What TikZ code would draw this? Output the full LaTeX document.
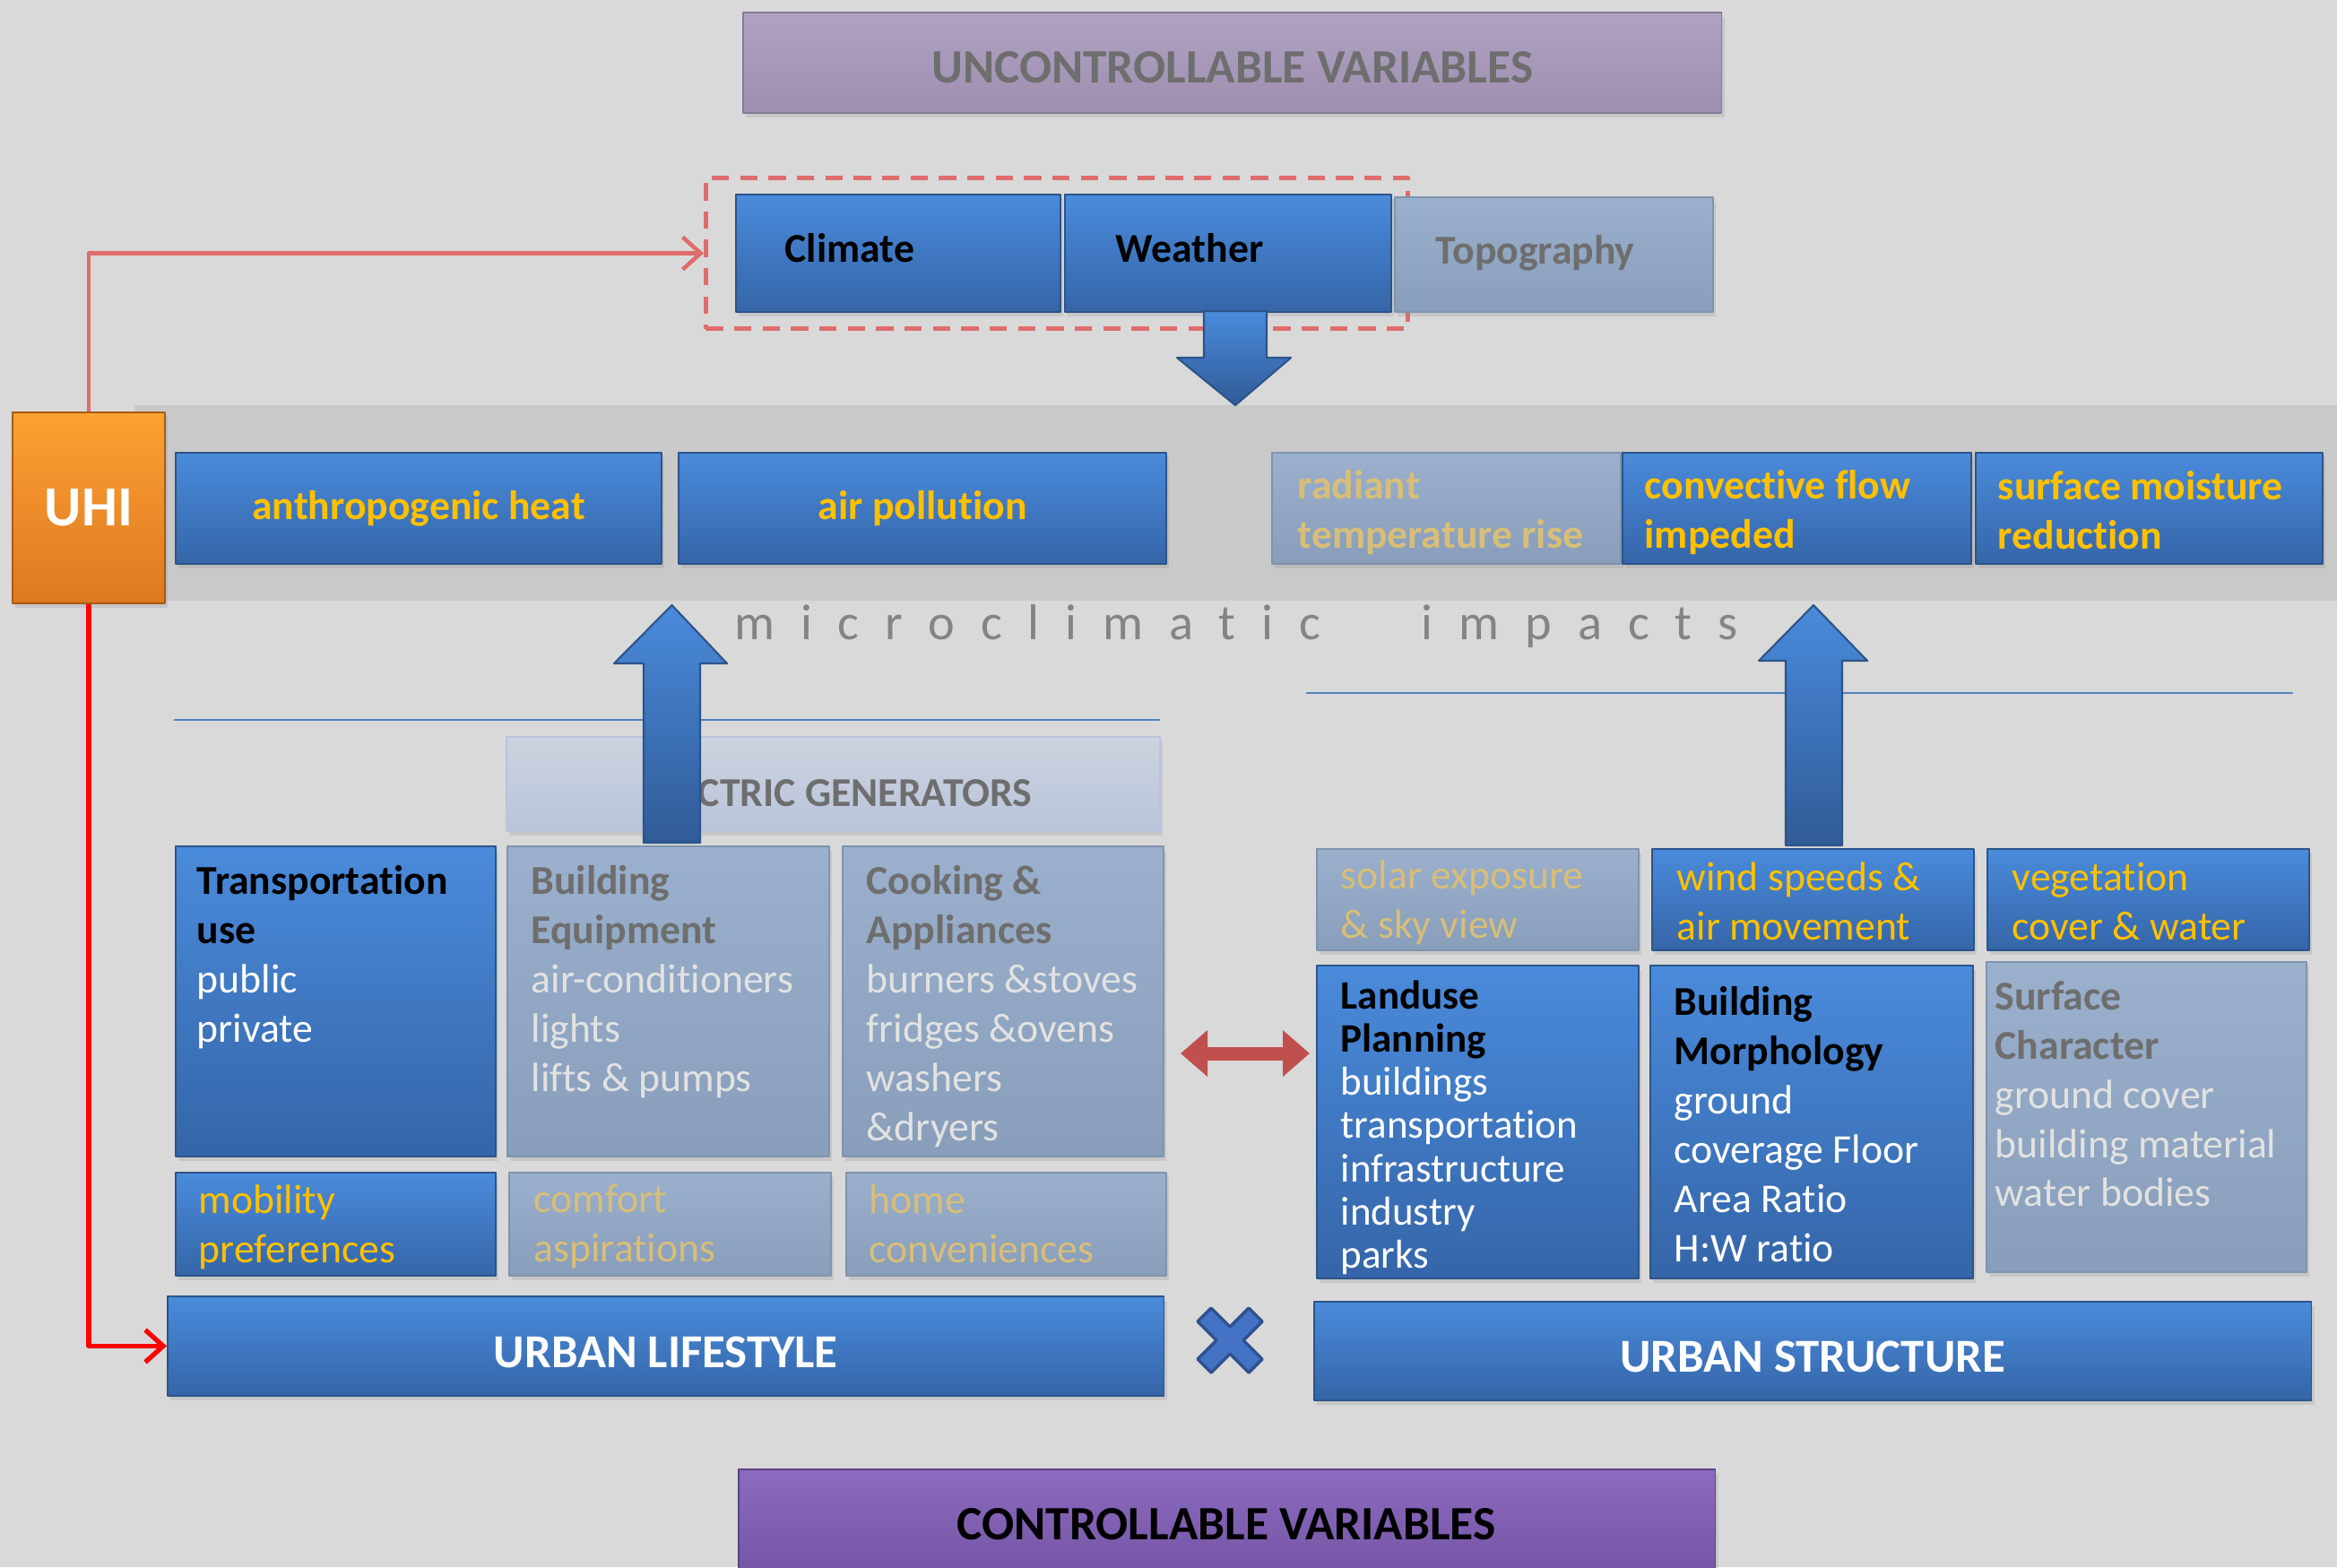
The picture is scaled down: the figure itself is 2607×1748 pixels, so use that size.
\documentclass[tikz,border=0pt]{standalone}
\usepackage{fontspec}
\setmainfont[Ligatures=NoCommon]{Carlito}
\newfontfamily\spacedfont[LetterSpace=51.5,Ligatures=NoCommon]{Carlito}
\usetikzlibrary{arrows.meta}
\usetikzlibrary{shadows}
\definecolor{bggray}{HTML}{D9D9D9}
\definecolor{bandgray}{HTML}{C9C9C9}
\definecolor{bluetop}{HTML}{4A8BDB}
\definecolor{bluebot}{HTML}{3565A8}
\definecolor{blueedge}{HTML}{2C5488}
\definecolor{dulltop}{HTML}{9AB0CC}
\definecolor{dullbot}{HTML}{889EBA}
\definecolor{dulledge}{HTML}{7F94AE}
\definecolor{gentop}{HTML}{CDD3DF}
\definecolor{genbot}{HTML}{B9C4DB}
\definecolor{orgtop}{HTML}{FBA232}
\definecolor{orgbot}{HTML}{DE7822}
\definecolor{orgedge}{HTML}{A85A14}
\definecolor{lilactop}{HTML}{B0A2C2}
\definecolor{lilacbot}{HTML}{9E8FB0}
\definecolor{violettop}{HTML}{8C6BC0}
\definecolor{violetbot}{HTML}{7353A2}
\definecolor{goldtxt}{HTML}{FFC000}
\definecolor{dimgold}{HTML}{D8BE78}
\definecolor{greytxt}{HTML}{6E6E6E}
\definecolor{palegrey}{HTML}{E2E2E2}
\definecolor{uhired}{HTML}{E06C6C}
\definecolor{linkred}{HTML}{FF0000}
\definecolor{swapred}{HTML}{C0504D}
\definecolor{rulerblue}{HTML}{4F81BD}
\definecolor{crossblue}{HTML}{4472C4}
\definecolor{crossedge}{HTML}{2F528F}
\newcommand{\darkhead}[1]{{\color{black}\bfseries #1}}
\newcommand{\dullhead}[1]{{\color{greytxt}\bfseries #1}}

\begin{document}
\begin{tikzpicture}[line cap=round,line join=round,x=0.01cm,y=-0.01cm,
  font=\fontsize{13}{15.6}\selectfont,
  box/.style={anchor=north west,inner sep=0pt,line width=0.5pt,
    drop shadow={opacity=0.2,shadow xshift=0.03cm,shadow yshift=-0.05cm}},
  bluebox/.style={box,top color=bluetop,bottom color=bluebot,draw=blueedge},
  dullbox/.style={box,top color=dulltop,bottom color=dullbot,draw=dulledge},
  txt/.style={anchor=north west,align=left,inner sep=0pt},
  midtxt/.style={anchor=west,align=left,inner sep=0pt},
  blockarrow/.style={top color=bluetop,bottom color=bluebot!90!black,draw=blueedge,line width=0.6pt},
  linkarrow/.style={line width=1.5pt,line cap=butt,-{Straight Barb[length=0.2cm,width=0.36cm]}}]
\clip (0,0) rectangle (2607,1748);
\fill[bggray] (0,0) rectangle (2607,1748);
\fill[bandgray] (150,452) rectangle (2607,670);

% uncontrollable
\node[box,top color=lilactop,bottom color=lilacbot,draw=lilacbot!85!black,minimum width=10.91cm,minimum height=1.12cm] (uncontrol) at (828,13) {};
\node[font=\fontsize{15.2}{18}\selectfont\bfseries,text=greytxt] (uncontroltxt) at ([yshift=-0.05cm]uncontrol.center) {UNCONTROLLABLE VARIABLES};
\node[anchor=north west,inner sep=0pt,draw=uhired,line width=1.4pt,line cap=butt,dash pattern=on 5.5pt off 3.5pt,
  minimum width=7.83cm,minimum height=1.68cm] (dashbox) at (785,196) {};
\node[bluebox,minimum width=3.62cm,minimum height=1.31cm] (climate) at (820,216) {};
\node[bluebox,minimum width=3.64cm,minimum height=1.31cm] (weather) at (1187,216) {};
\node[dullbox,minimum width=3.55cm,minimum height=1.28cm] (topo) at (1555,219) {};
\node[midtxt,font=\fontsize{13}{15.6}\selectfont\bfseries] (climatetxt) at ([xshift=0.55cm,yshift=0.06cm]climate.west) {Climate};
\node[midtxt,font=\fontsize{13}{15.6}\selectfont\bfseries] (weathertxt) at ([xshift=0.57cm,yshift=0.06cm]weather.west) {Weather};
\node[midtxt,font=\fontsize{13}{15.6}\selectfont\bfseries,text=greytxt] (topotxt) at ([xshift=0.46cm,yshift=0.02cm]topo.west) {Topography};
\draw[blockarrow] (1343,347) -- (1413,347) -- (1413,399) -- (1440,399) -- (1378,452) -- (1313,399) -- (1343,399) -- cycle;

% microclimatic impacts
\node[box,top color=orgtop,bottom color=orgbot,draw=orgedge,minimum width=1.70cm,minimum height=2.13cm,
  font=\fontsize{18}{20}\selectfont\bfseries,text=white] (uhi) at (13,459) {UHI};
\draw[linkarrow,uhired,line width=1.3pt] (uhi.north) |- (dashbox.west);
\node[bluebox,minimum width=5.42cm,minimum height=1.24cm,font=\fontsize{13}{15.6}\selectfont\bfseries,text=goldtxt] (anthro) at (195,504) {anthropogenic heat};
\node[bluebox,minimum width=5.44cm,minimum height=1.24cm,font=\fontsize{13}{15.6}\selectfont\bfseries,text=goldtxt] (airpol) at (756,504) {air pollution};
\node[dullbox,minimum width=3.89cm,minimum height=1.24cm] (radiant) at (1418,504) {};
\node[bluebox,minimum width=3.89cm,minimum height=1.24cm] (convect) at (1809,504) {};
\node[bluebox,minimum width=3.87cm,minimum height=1.24cm] (moist) at (2203,504) {};
\node[midtxt,font=\fontsize{13}{15.6}\selectfont\bfseries,text=dimgold] (radianttxt) at ([xshift=0.29cm,yshift=-0.05cm]radiant.west) {radiant\\temperature rise};
\node[midtxt,font=\fontsize{13}{15.6}\selectfont\bfseries,text=goldtxt] (convecttxt) at ([xshift=0.25cm,yshift=-0.05cm]convect.west) {convective flow\\impeded};
\node[midtxt,font=\fontsize{13}{15.6}\selectfont\bfseries,text=goldtxt] (moisttxt) at ([xshift=0.25cm,yshift=-0.02cm]moist.west) {surface moisture\\reduction};
\node[text=greytxt!85!white,font=\spacedfont\fontsize{16}{19}\selectfont] (microtxt) at (1379,698) {microclimatic\hspace{2.0em}impacts};

% urban lifestyle
\draw[rulerblue,line width=0.8pt] (195,803) -- (1293,803);
\node[box,top color=gentop,bottom color=genbot,draw=genbot,minimum width=7.29cm,minimum height=1.05cm] (elecgen) at (564,821) {};
\node[midtxt,font=\fontsize{13}{15.6}\selectfont\bfseries,text=greytxt] (elecgentxt) at ([xshift=2.14cm,yshift=-0.1cm]elecgen.west) {CTRIC GENERATORS};
\node[bluebox,minimum width=3.57cm,minimum height=3.46cm] (transp) at (195,943) {};
\node[dullbox,minimum width=3.59cm,minimum height=3.46cm] (equip) at (565,943) {};
\node[dullbox,minimum width=3.58cm,minimum height=3.46cm] (cook) at (939,943) {};
\node[txt,text=white] (transptxt) at ([shift={(24,22)}]transp.north west) {\darkhead{Transportation}\\\darkhead{use}\\public\\private};
\node[txt,text=palegrey] (equiptxt) at ([shift={(27,22)}]equip.north west) {\dullhead{Building}\\\dullhead{Equipment}\\air-conditioners\\lights\\lifts \& pumps};
\node[txt,text=palegrey] (cooktxt) at ([shift={(27,22)}]cook.north west) {\dullhead{Cooking \&}\\\dullhead{Appliances}\\burners \&stoves\\fridges \&ovens\\washers\\\&dryers};
\node[bluebox,minimum width=3.57cm,minimum height=1.15cm] (mobil) at (195,1307) {};
\node[dullbox,minimum width=3.59cm,minimum height=1.15cm] (comfort) at (567,1307) {};
\node[dullbox,minimum width=3.57cm,minimum height=1.15cm] (homeconv) at (943,1307) {};
\node[midtxt,text=goldtxt] (mobiltxt) at ([xshift=0.26cm,yshift=-0.03cm]mobil.west) {mobility\\preferences};
\node[midtxt,text=dimgold] (comforttxt) at ([xshift=0.28cm,yshift=-0.03cm]comfort.west) {comfort\\aspirations};
\node[midtxt,text=dimgold] (homeconvtxt) at ([xshift=0.26cm]homeconv.west) {home\\conveniences};
\node[bluebox,minimum width=11.11cm,minimum height=1.11cm] (lifestyle) at (186,1445) {};
\node[font=\fontsize{15}{18}\selectfont\bfseries,text=white] (lifestyletxt) at ([yshift=-0.07cm]lifestyle.center) {URBAN LIFESTYLE};
\draw[linkarrow,linkred] (uhi.south) |- (lifestyle.west);
\draw[blockarrow] (718,940) -- (718,740) -- (685,740) -- (749.5,675) -- (811,740) -- (781,740) -- (781,940) -- cycle;

% urban structure
\draw[rulerblue,line width=0.8pt] (1458,773) -- (2557,773);
\node[dullbox,minimum width=3.59cm,minimum height=1.13cm] (solar) at (1468,946) {};
\node[bluebox,minimum width=3.59cm,minimum height=1.13cm] (wind) at (1842,946) {};
\node[bluebox,minimum width=3.59cm,minimum height=1.13cm] (veget) at (2216,946) {};
\node[midtxt,text=dimgold] (solartxt) at ([xshift=0.27cm,yshift=-0.03cm]solar.west) {solar exposure\\\& sky view};
\node[midtxt,text=goldtxt] (windtxt) at ([xshift=0.28cm,yshift=-0.02cm]wind.west) {wind speeds \&\\air movement};
\node[midtxt,text=goldtxt] (vegettxt) at ([xshift=0.28cm,yshift=-0.02cm]veget.west) {vegetation\\cover \& water};
\node[bluebox,minimum width=3.59cm,minimum height=3.49cm] (landuse) at (1468,1076) {};
\node[bluebox,minimum width=3.60cm,minimum height=3.49cm] (morph) at (1840,1076) {};
\node[dullbox,minimum width=3.57cm,minimum height=3.46cm] (surface) at (2215,1072) {};
\node[txt,text=white,font=\fontsize{12.8}{13.7}\selectfont] (landusetxt) at ([shift={(27,17)}]landuse.north west) {\darkhead{Landuse}\\\darkhead{Planning}\\buildings\\transportation\\infrastructure\\industry\\parks};
\node[txt,text=white] (morphtxt) at ([shift={(27,24)}]morph.north west) {\darkhead{Building}\\\darkhead{Morphology}\\ground\\coverage Floor\\Area Ratio\\H:W ratio};
\node[txt,text=palegrey] (surfacetxt) at ([shift={(10,22)}]surface.north west) {\dullhead{Surface}\\\dullhead{Character}\\ground cover\\building material\\water bodies};
\node[bluebox,minimum width=11.12cm,minimum height=1.10cm] (structure) at (1465,1451) {};
\node[font=\fontsize{15}{18}\selectfont\bfseries,text=white] (structuretxt) at ([yshift=-0.06cm]structure.center) {URBAN STRUCTURE};
\draw[blockarrow] (1992,943) -- (1992,737) -- (1962,737) -- (2023,675) -- (2083,737) -- (2055,737) -- (2055,943) -- cycle;

% links between the two sides
\draw[swapred,line width=0.15cm,line cap=butt,{Triangle[length=0.3cm,width=0.5cm]}-{Triangle[length=0.3cm,width=0.5cm]},
  shorten <=0.18cm,shorten >=0.07cm] (cook.east |- 0,1175) -- (landuse.west |- 0,1175);
\draw[fill=crossblue,draw=crossedge,line width=1pt,shift={(1372,1495)}] (-36,-21) -- (-21,-36) -- (0,-15) -- (21,-36) -- (36,-21) -- (15,0)
  -- (36,21) -- (21,36) -- (0,15) -- (-21,36) -- (-36,21) -- (-15,0) -- cycle;

% controllable
\node[box,top color=violettop,bottom color=violetbot,draw=violetbot!80!black,minimum width=10.89cm,minimum height=1.25cm] (control) at (823,1638) {};
\node[font=\fontsize{15.2}{18}\selectfont\bfseries] (controltxt) at (1368,1700) {CONTROLLABLE VARIABLES};
\end{tikzpicture}
\end{document}
